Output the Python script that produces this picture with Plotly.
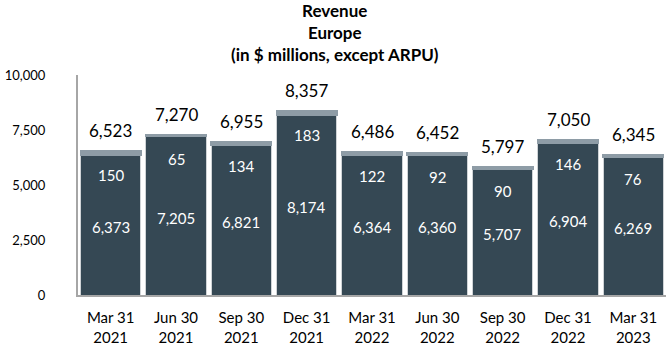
import plotly.graph_objects as go

categories = ["Mar 31<br>2021", "Jun 30<br>2021", "Sep 30<br>2021", "Dec 31<br>2021",
              "Mar 31<br>2022", "Jun 30<br>2022", "Sep 30<br>2022", "Dec 31<br>2022",
              "Mar 31<br>2023"]
base_values = [6373, 7205, 6821, 8174, 6364, 6360, 5707, 6904, 6269]
top_values = [150, 65, 134, 183, 122, 92, 90, 146, 76]
totals = [6523, 7270, 6955, 8357, 6486, 6452, 5797, 7050, 6345]

dark = "#354854"
light = "#8e9ca6"
edge = "#cfd3d6"
font_family = "Lato, 'Open Sans', sans-serif"

fig = go.Figure()
fig.add_trace(go.Bar(x=categories, y=base_values, marker=dict(color=dark, line=dict(color=edge, width=1)),
                     hoverinfo="skip"))
fig.add_trace(go.Bar(x=categories, y=top_values, marker=dict(color=light, line=dict(color=light, width=2)),
                     hoverinfo="skip"))

annotations = []
for c, b, t, tot in zip(categories, base_values, top_values, totals):
    annotations.append(dict(x=c, y=tot, text=f"{tot:,}", showarrow=False, yanchor="bottom", yshift=8,
                            font=dict(size=17, color="black", family=font_family)))
    annotations.append(dict(x=c, y=tot, text=f"{t:,}", showarrow=False, yanchor="middle", yshift=-24,
                            font=dict(size=15, color="white", family=font_family)))
    annotations.append(dict(x=c, y=b / 2, text=f"{b:,}", showarrow=False, yanchor="middle", yshift=-2,
                            font=dict(size=15, color="white", family=font_family)))

annotations.append(dict(xref="paper", yref="paper", x=(335 - 78) / 588, y=1, xanchor="center",
                        yanchor="bottom", yshift=8, showarrow=False,
                        text="<b>Revenue<br>Europe<br>(in $ millions, except ARPU)</b>",
                        font=dict(size=17, color="black", family=font_family)))

fig.update_layout(
    barmode="stack",
    bargap=0.08,
    width=670, height=352,
    margin=dict(l=78, r=4, t=75, b=57, autoexpand=False),
    paper_bgcolor="white", plot_bgcolor="white",
    showlegend=False,
    annotations=annotations,
    font=dict(family=font_family, color="black"),
)
fig.update_yaxes(range=[0, 10000], tickvals=[0, 2500, 5000, 7500, 10000], tickformat=",",
                 showgrid=False, showline=True, linecolor="#a6a6a6", linewidth=2,
                 tickfont=dict(size=13, color="black", family=font_family), ticks="",
                 ticklabelstandoff=28, zeroline=False, automargin=False)
fig.update_xaxes(showline=True, linecolor="#a6a6a6", linewidth=2, tickfont=dict(size=15, color="black"),
                 ticks="", ticklabelstandoff=8, automargin=False)

fig.write_html("out.html")
